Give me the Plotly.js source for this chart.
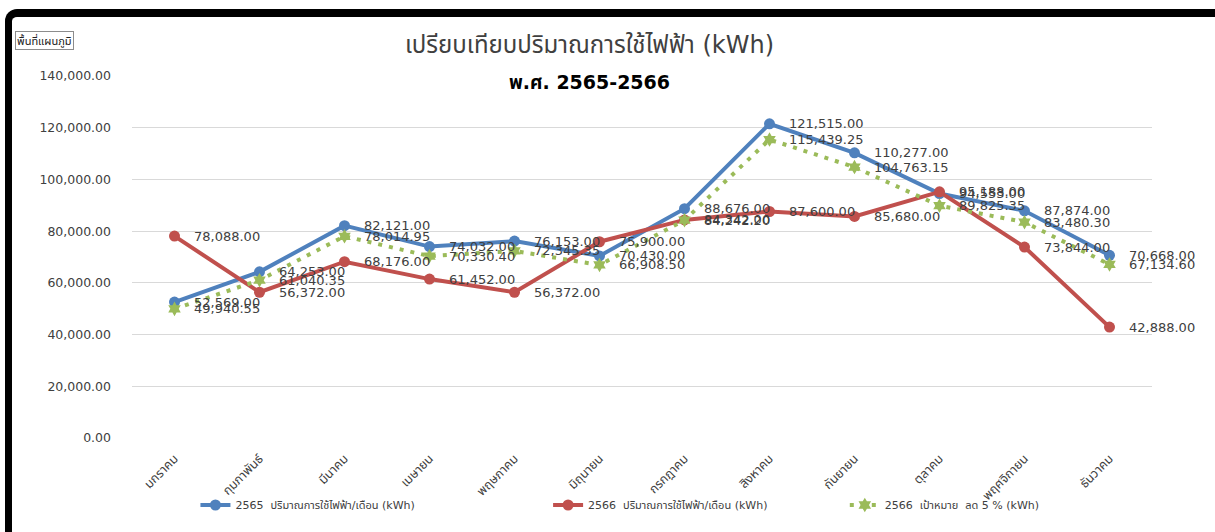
<!DOCTYPE html>
<html>
<head>
<meta charset="utf-8">
<script src="https://cdn.plot.ly/plotly-3.0.1.min.js"></script>
<style>
  html, body { margin: 0; padding: 0; background: #fff; }
  #wrap { position: relative; width: 1215px; height: 532px; overflow: hidden; }
  #chart { width: 1215px; height: 532px; }
  #frame { position: absolute; left: 5px; top: 9px; width: 1215px; height: 540px;
           border-top: 8px solid #000; border-left: 7px solid #000;
           border-top-left-radius: 12px; pointer-events: none; box-sizing: border-box; }
</style>
</head>
<body>
<div id="wrap">
  <div id="chart"></div>
  <div id="frame"></div>
</div>
<script>
const months = ["มกราคม","กุมภาพันธ์","มีนาคม","เมษายน","พฤษภาคม","มิถุนายน","กรกฎาคม","สิงหาคม","กันยายน","ตุลาคม","พฤศจิกายน","ธันวาคม"];
const use2565 = [52569, 64253, 82121, 74032, 76153, 70430, 88676, 121515, 110277, 94553, 87874, 70668];
const use2566 = [78088, 56372, 68176, 61452, 56372, 75900, 84342, 87600, 85680, 95188, 73844, 42888];
const target2566 = [49940.55, 61040.35, 78014.95, 70330.40, 72345.35, 66908.50, 84242.20, 115439.25, 104763.15, 89825.35, 83480.30, 67134.60];
const yTicks = [0, 20000, 40000, 60000, 80000, 100000, 120000, 140000];
const yTickText = ["0.00","20,000.00","40,000.00","60,000.00","80,000.00","100,000.00","120,000.00","140,000.00"];
const names = ["2565\u00a0\u00a0ปริมาณการใช้ไฟฟ้า/เดือน (kWh)", "2566\u00a0\u00a0ปริมาณการใช้ไฟฟ้า/เดือน (kWh)", "2566\u00a0\u00a0เป้าหมาย\u00a0\u00a0ลด 5 % (kWh)"];
const titleText = "เปรียบเทียบปริมาณการใช้ไฟฟ้า (kWh)";
const subTitleText = "พ.ศ. 2565-2566";
const chartAreaText = "พื้นที่แผนภูมิ";

const FONT = "DejaVu Sans, Noto Sans Thai, Tahoma, sans-serif";
const blue = "#4F81BD", red = "#C0504D", green = "#9BBB59";

const fmt = v => v.toLocaleString("en-US", {minimumFractionDigits: 2, maximumFractionDigits: 2});

const traces = [
  { x: months, y: use2565, name: names[0], type: "scatter", mode: "lines+markers", legend: "legend",
    line: { color: blue, width: 4 }, marker: { color: blue, size: 11 } },
  { x: months, y: use2566, name: names[1], type: "scatter", mode: "lines+markers", legend: "legend2",
    line: { color: red, width: 4 }, marker: { color: red, size: 11 } },
  { x: months, y: target2566, name: names[2], type: "scatter", mode: "lines+markers", legend: "legend3",
    line: { color: green, width: 4, dash: "4px,7px" }, marker: { color: green, size: 11, symbol: "hexagram" } }
];

const annotations = [];
[use2565, use2566, target2566].forEach(series => {
  series.forEach((v, i) => {
    annotations.push({ x: months[i], y: v, xref: "x", yref: "y", text: fmt(v), showarrow: false,
      xanchor: "left", yanchor: "middle", xshift: 17,
      font: { family: FONT, size: 13, color: "#404040" } });
  });
});
annotations.push({ xref: "paper", yref: "paper", x: 0.449, y: 1.0 + (76 - 45) / 362, text: titleText,
  showarrow: false, xanchor: "center", yanchor: "middle",
  font: { family: FONT, size: 24, color: "#404040" } });
annotations.push({ xref: "paper", yref: "paper", x: 0.449, y: 1.0 - (82 - 76) / 362, text: "<b>" + subTitleText + "</b>",
  showarrow: false, xanchor: "center", yanchor: "middle",
  font: { family: FONT, size: 19, color: "#000" } });
annotations.push({ xref: "paper", yref: "paper", x: (14 - 131.5) / 1021, y: 1.0 + (76 - 41) / 362, text: chartAreaText,
  showarrow: false, xanchor: "left", yanchor: "middle", bgcolor: "#fff", bordercolor: "#8c8c8c", borderwidth: 1, borderpad: 1,
  font: { family: FONT, size: 11, color: "#222" } });

const legendBase = (xpx) => ({ orientation: "h", x: (xpx - 131.5) / 1021, xanchor: "left", y: -(505 - 438) / 362, yanchor: "middle",
  font: { family: FONT, size: 11, color: "#404040" }, bgcolor: "rgba(0,0,0,0)", borderwidth: 0 });

const layout = {
  width: 1215, height: 532,
  margin: { l: 131.5, r: 62.5, t: 76, b: 94 },
  paper_bgcolor: "#fff", plot_bgcolor: "#fff",
  font: { family: FONT, color: "#404040" },
  showlegend: true,
  legend: legendBase(195),
  legend2: legendBase(548),
  legend3: legendBase(845),
  xaxis: { type: "category", range: [-0.5, 11.5], tickangle: -45, showgrid: false, zeroline: false, showline: false,
    ticks: "", ticklabelstandoff: 10, tickfont: { family: FONT, size: 12.5, color: "#404040" }, fixedrange: true },
  yaxis: { range: [0, 140000], tickvals: yTicks, ticktext: yTickText, showgrid: true, gridcolor: "#d9d9d9", gridwidth: 1,
    zeroline: false, showline: false, ticks: "", ticklabelstandoff: 20,
    tickfont: { family: FONT, size: 12.5, color: "#404040" }, fixedrange: true },
  annotations: annotations
};

Plotly.newPlot("chart", traces, layout, { displayModeBar: false, staticPlot: true });
</script>
</body>
</html>
